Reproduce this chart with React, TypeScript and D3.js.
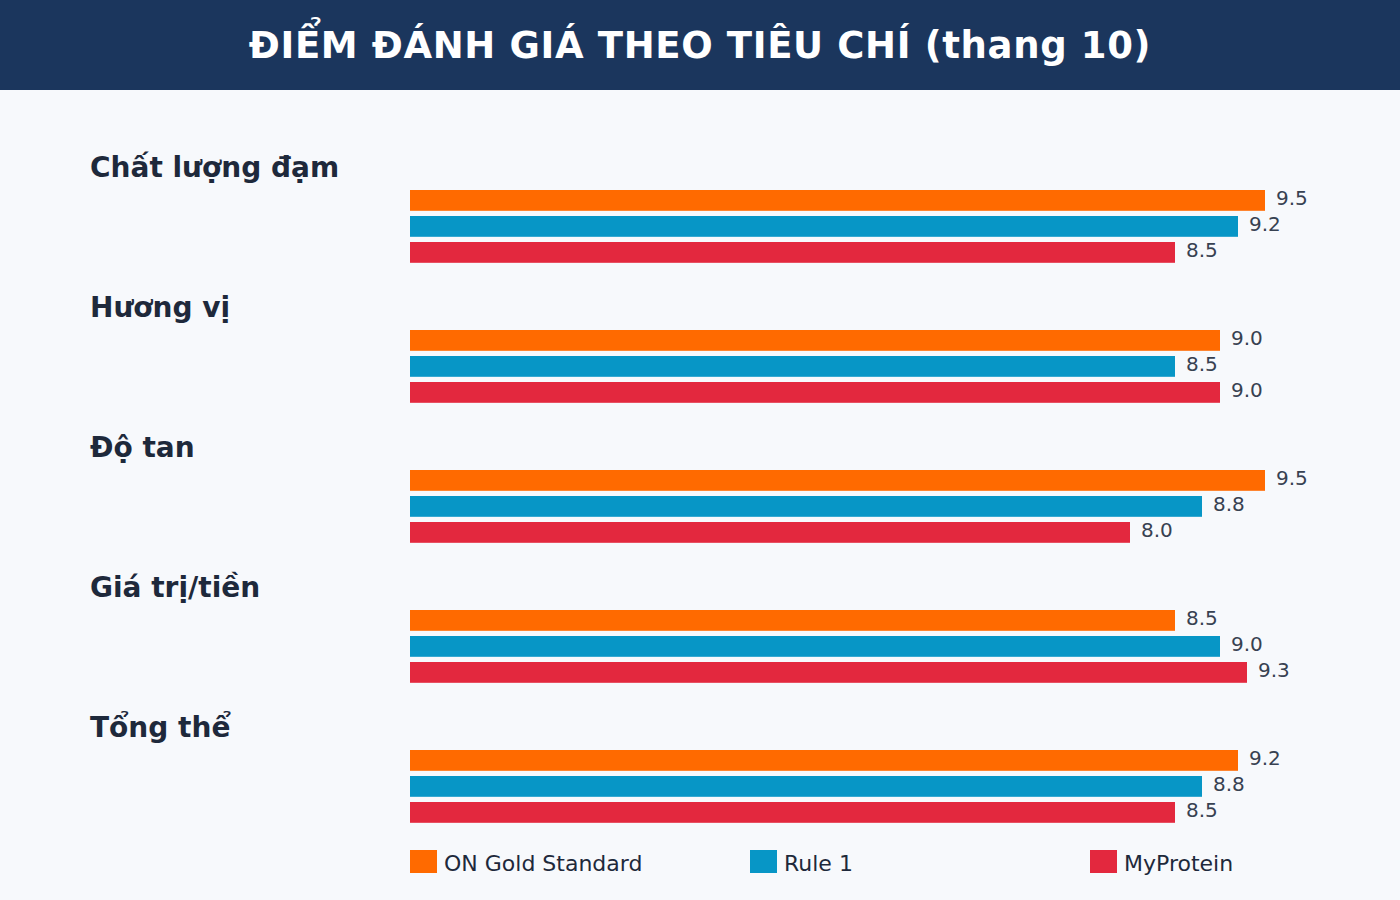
import { useEffect, useRef } from 'react';
import * as d3 from 'd3';

const categories = ['Chất lượng đạm', 'Hương vị', 'Độ tan', 'Giá trị/tiền', 'Tổng thể'];
const seriesNames = ['ON Gold Standard', 'Rule 1', 'MyProtein'];
const onGold = [9.5, 9.0, 9.5, 8.5, 9.2];
const rule1 = [9.2, 8.5, 8.8, 9.0, 8.8];
const myProtein = [8.5, 9.0, 8.0, 9.3, 8.5];
const colors = ['#ff6a00', '#0796c6', '#e3283e'];

const W = 1400;
const H = 900;

export default function App() {
  const svgRef = useRef<SVGSVGElement>(null);

  useEffect(() => {
    if (!svgRef.current) return;
    document.body.style.margin = '0';
    const svg = d3.select(svgRef.current);
    svg.selectAll('*').remove();

    const font = '"DejaVu Sans", sans-serif';
    const series = [onGold, rule1, myProtein];

    // background + header band
    svg.append('rect').attr('width', W).attr('height', H).attr('fill', '#f7f9fc');
    svg.append('rect').attr('width', W).attr('height', 90).attr('fill', '#1b365d');
    svg.append('text')
      .attr('x', W / 2)
      .attr('y', 45)
      .attr('dy', '0.36em')
      .attr('text-anchor', 'middle')
      .style('font-family', font)
      .style('font-size', '37px')
      .style('font-weight', 'bold')
      .style('fill', '#ffffff')
      .style('letter-spacing', '0.65px')
      .text('ĐIỂM ĐÁNH GIÁ THEO TIÊU CHÍ (thang 10)');

    // scales
    const x = d3.scaleLinear().domain([0, 10]).range([410, 1310]);
    const yGroup = d3.scaleBand<string>()
      .domain(categories)
      .range([120, 820])
      .padding(0);
    const yBar = d3.scaleBand<string>()
      .domain(seriesNames)
      .range([70, 142.8])
      .paddingInner(0.2)
      .paddingOuter(0);

    const groups = svg.selectAll('.grp')
      .data(categories)
      .enter()
      .append('g')
      .attr('class', 'grp')
      .attr('transform', d => `translate(0,${yGroup(d)})`);

    groups.append('text')
      .attr('x', 90)
      .attr('y', 57)
      .style('font-family', font)
      .style('font-size', '28px')
      .style('font-weight', 'bold')
      .style('fill', '#1e293b')
      .text(d => d);

    groups.each(function (_cat, i) {
      const g = d3.select(this);
      const rows = seriesNames.map((name, s) => ({ name, value: series[s][i], color: colors[s] }));
      g.selectAll('rect')
        .data(rows)
        .enter()
        .append('rect')
        .attr('x', x(0))
        .attr('y', d => yBar(d.name) || 0)
        .attr('width', d => x(d.value) - x(0))
        .attr('height', yBar.bandwidth())
        .attr('fill', d => d.color);
      g.selectAll('.val')
        .data(rows)
        .enter()
        .append('text')
        .attr('class', 'val')
        .attr('x', d => x(d.value) + 11)
        .attr('y', d => (yBar(d.name) || 0) + yBar.bandwidth() / 2 - 2)
        .attr('dy', '0.35em')
        .style('font-family', font)
        .style('font-size', '20px')
        .style('fill', '#374151')
        .text(d => d.value.toFixed(1));
    });

    // legend
    const legend = svg.selectAll('.leg')
      .data(seriesNames)
      .enter()
      .append('g')
      .attr('class', 'leg')
      .attr('transform', (_d, i) => `translate(${410 + i * 340},850)`);
    legend.append('rect')
      .attr('width', 27)
      .attr('height', 23)
      .attr('fill', (_d, i) => colors[i]);
    legend.append('text')
      .attr('x', 34)
      .attr('y', 13)
      .attr('dy', '0.35em')
      .style('font-family', font)
      .style('font-size', '22px')
      .style('fill', '#1e293b')
      .text(d => d);
  }, []);

  return (
    <svg
      ref={svgRef}
      width={W}
      height={H}
      style={{ position: 'absolute', left: 0, top: 0, display: 'block' }}
    />
  );
}
